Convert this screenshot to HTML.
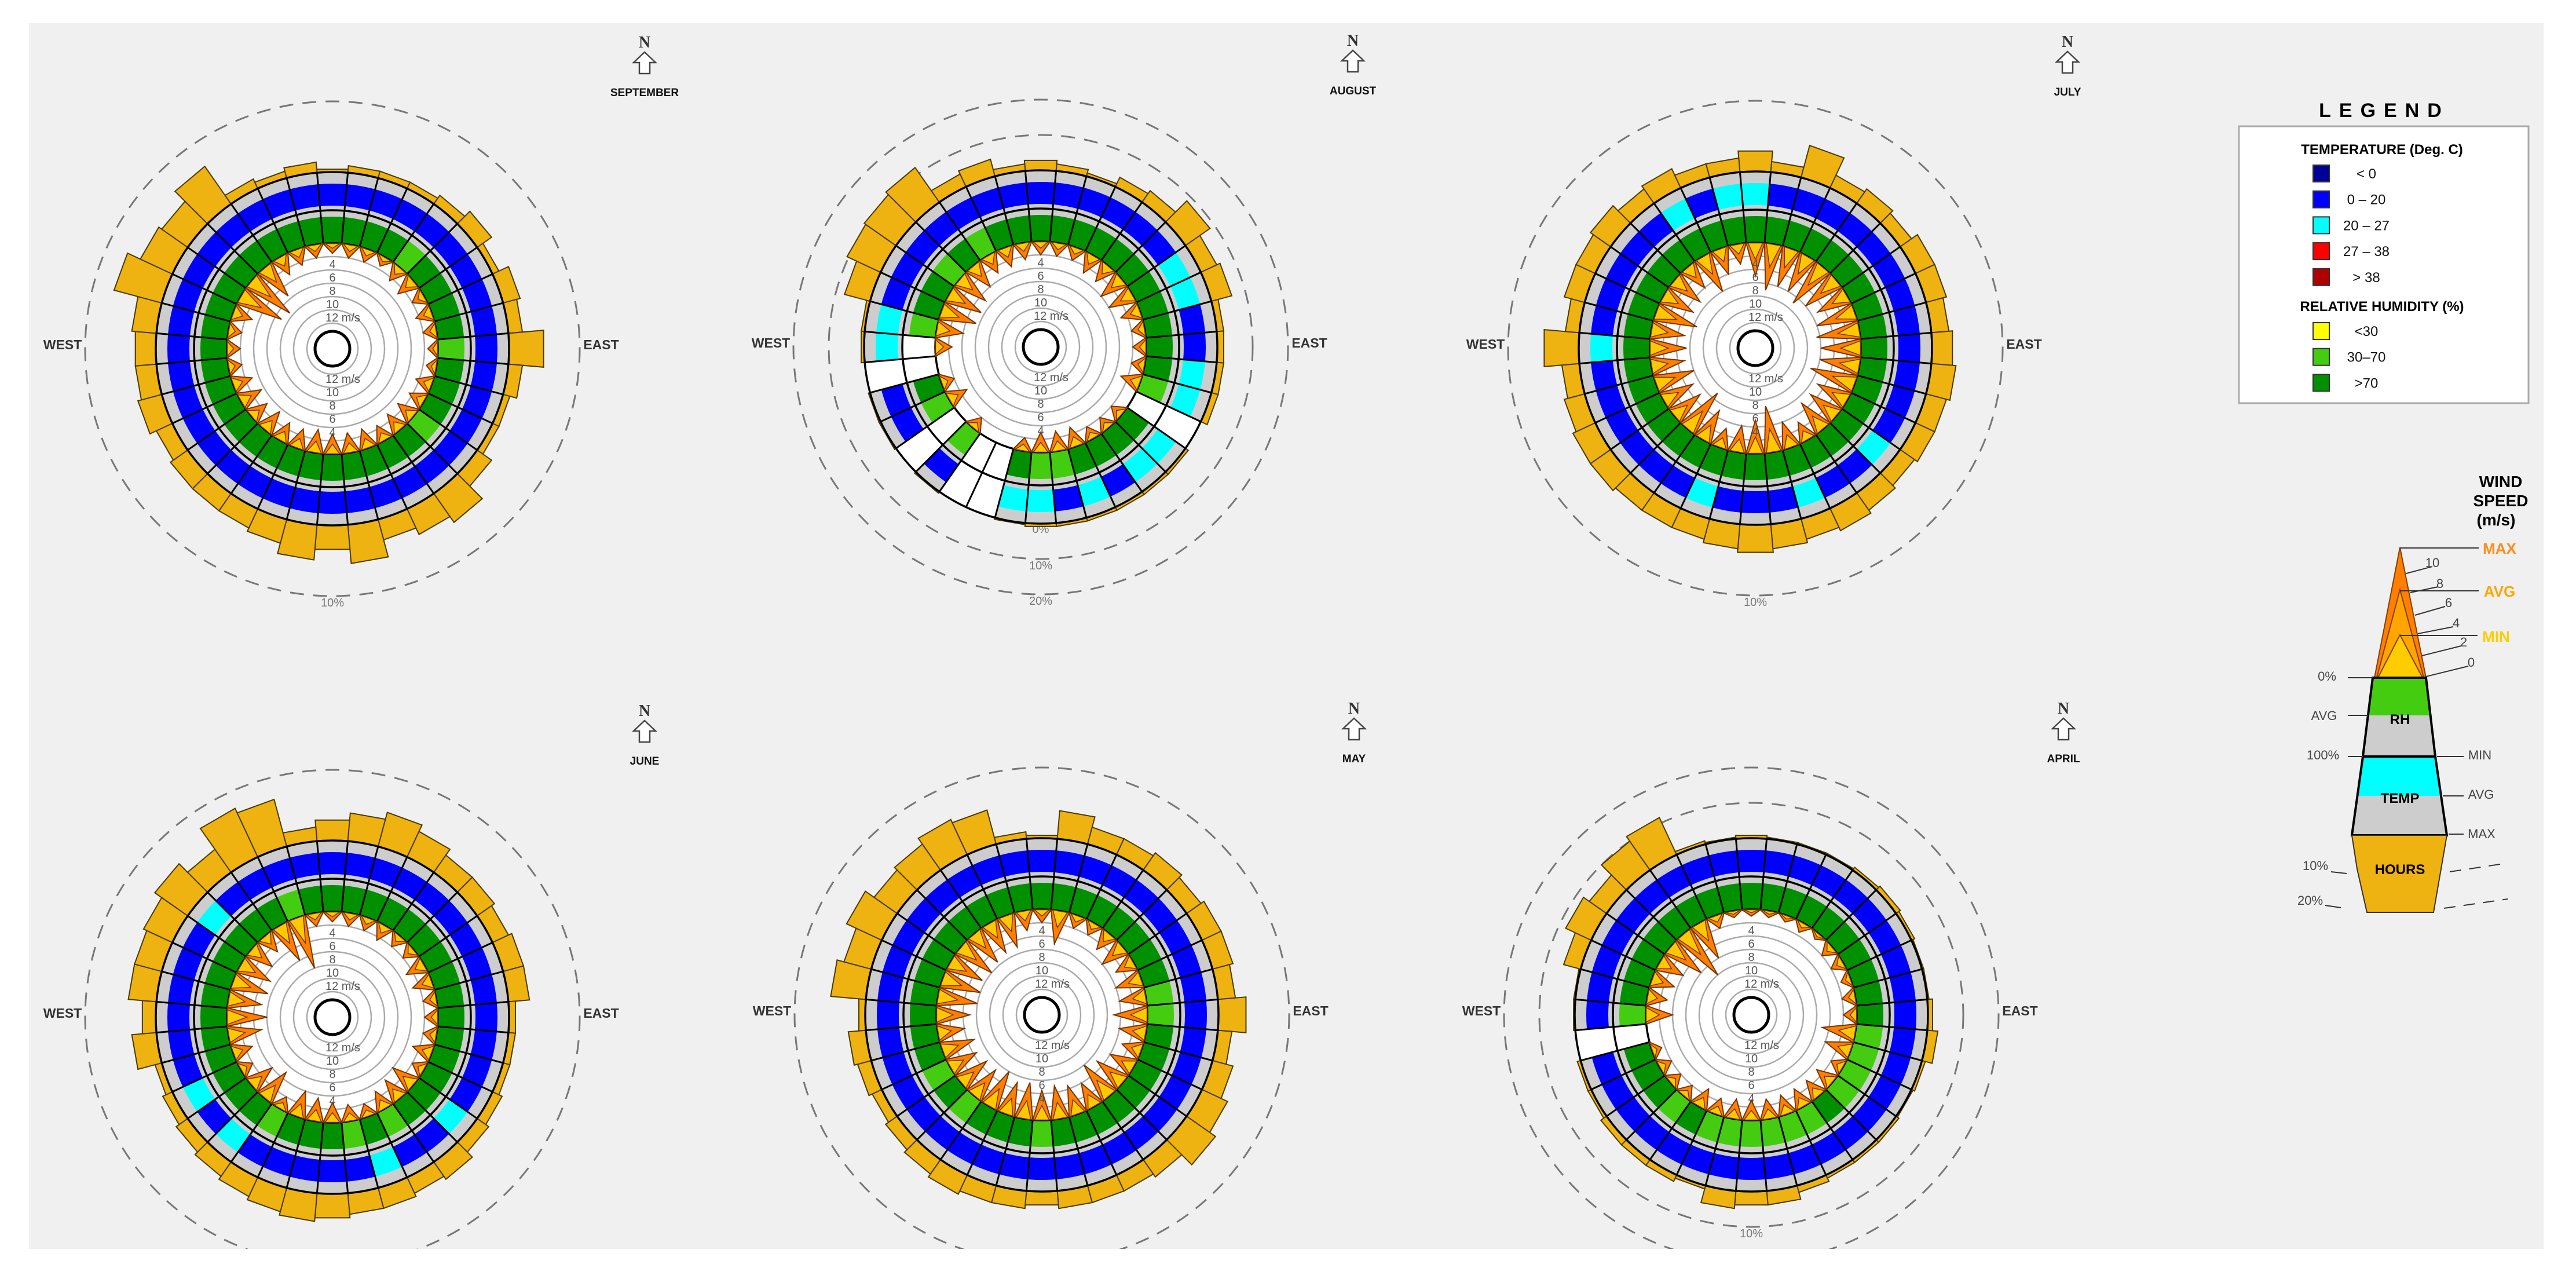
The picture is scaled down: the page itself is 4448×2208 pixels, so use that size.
<!DOCTYPE html>
<html><head><meta charset="utf-8"><style>
html,body{margin:0;padding:0;background:#fff;}
svg{display:block;font-family:"Liberation Sans",sans-serif;}
</style></head><body>
<svg id="chart" xmlns="http://www.w3.org/2000/svg" width="4448" height="2208" viewBox="0 0 4448 2208">
<defs><clipPath id="panelClip"><rect x="50" y="40" width="4342" height="2116"/></clipPath></defs>
<rect x="50" y="40" width="4342" height="2116" fill="#f0f0f0"/>
<g id="roses" clip-path="url(#panelClip)"></g>

<g>
<text x="4117" y="202" text-anchor="middle" font-size="34" font-weight="bold" letter-spacing="14">LEGEND</text>
<rect x="3866" y="218" width="500" height="478" fill="#fff" stroke="#aaa" stroke-width="3"/>
<text x="4113" y="266" text-anchor="middle" font-size="24" font-weight="bold">TEMPERATURE (Deg. C)</text>
<g id="legendTemp"></g>
<text x="4113" y="537" text-anchor="middle" font-size="24" font-weight="bold">RELATIVE HUMIDITY (%)</text>
<g id="legendRH"></g>
</g>

<g font-weight="bold">
<text x="4318" y="841" text-anchor="middle" font-size="28">WIND</text>
<text x="4318" y="874" text-anchor="middle" font-size="28">SPEED</text>
<text x="4310" y="907" text-anchor="middle" font-size="28">(m/s)</text>
<polygon points="4144,945 4100,1170 4189,1170" fill="#ff7f00" stroke="#8a3d00" stroke-width="2"/>
<polygon points="4144,1018 4104,1170 4185,1170" fill="#ffa500" stroke="#8a3d00" stroke-width="2"/>
<polygon points="4144,1096 4106,1170 4183,1170" fill="#ffcc00" stroke="#8a3d00" stroke-width="2"/>
<polygon points="4097,1170 4189,1170 4205,1306 4080,1306" fill="#cdcdcd"/>
<polygon points="4097,1170 4189,1170 4197,1235 4089,1235" fill="#44cc11"/>
<polygon points="4097,1170 4189,1170 4205,1306 4080,1306" fill="none" stroke="#000" stroke-width="4"/>
<polygon points="4080,1306 4205,1306 4225,1442 4061,1442" fill="#cdcdcd"/>
<polygon points="4080,1306 4205,1306 4215,1374 4071,1374" fill="#00ffff"/>
<polygon points="4080,1306 4205,1306 4225,1442 4061,1442" fill="none" stroke="#000" stroke-width="4"/>
<polygon points="4061,1442 4225,1442 4215,1500 4202,1575 4087,1575 4070,1500" fill="#eeb211" stroke="#333" stroke-width="2"/>
<text x="4144" y="1250" text-anchor="middle" font-size="24">RH</text>
<text x="4144" y="1386" text-anchor="middle" font-size="24">TEMP</text>
<text x="4144" y="1509" text-anchor="middle" font-size="24">HOURS</text>
<g stroke="#333" stroke-width="2" fill="none">
<line x1="4144" y1="946" x2="4280" y2="946"/><line x1="4144" y1="1020" x2="4280" y2="1020"/><line x1="4144" y1="1097" x2="4278" y2="1097"/>
<line x1="4155" y1="990" x2="4200" y2="978"/><line x1="4162" y1="1023" x2="4210" y2="1013"/><line x1="4170" y1="1062" x2="4222" y2="1047"/><line x1="4175" y1="1094" x2="4236" y2="1082"/><line x1="4182" y1="1132" x2="4250" y2="1115"/><line x1="4189" y1="1168" x2="4262" y2="1150"/>
<line x1="4054" y1="1170" x2="4097" y2="1170"/><line x1="4054" y1="1235" x2="4089" y2="1235"/><line x1="4054" y1="1306" x2="4080" y2="1306"/>
<line x1="4208" y1="1306" x2="4254" y2="1306"/><line x1="4218" y1="1374" x2="4254" y2="1374"/><line x1="4228" y1="1440" x2="4254" y2="1440"/>
<line x1="4025" y1="1505" x2="4052" y2="1508"/><line x1="4015" y1="1563" x2="4042" y2="1567"/>
<path d="M4230,1505 L4330,1490" stroke-dasharray="20 14"/><path d="M4220,1568 L4330,1552" stroke-dasharray="20 14"/>
</g>
<g font-weight="normal" font-size="22" fill="#444">
<text x="4200" y="979" text-anchor="middle">10</text><text x="4213" y="1015" text-anchor="middle">8</text><text x="4228" y="1048" text-anchor="middle">6</text><text x="4241" y="1083" text-anchor="middle">4</text><text x="4254" y="1116" text-anchor="middle">2</text><text x="4267" y="1151" text-anchor="middle">0</text>
<text x="4018" y="1175" text-anchor="middle">0%</text><text x="4013" y="1243" text-anchor="middle">AVG</text><text x="4011" y="1311" text-anchor="middle">100%</text>
<text x="4282" y="1311" text-anchor="middle">MIN</text><text x="4284" y="1379" text-anchor="middle">AVG</text><text x="4285" y="1447" text-anchor="middle">MAX</text>
<text x="3998" y="1502" text-anchor="middle">10%</text><text x="3989" y="1562" text-anchor="middle">20%</text>
</g>
<text x="4316" y="956" text-anchor="middle" font-size="26" fill="#ff8c1a">MAX</text>
<text x="4316" y="1030" text-anchor="middle" font-size="26" fill="#ffa500">AVG</text>
<text x="4310" y="1108" text-anchor="middle" font-size="26" fill="#ffcc00">MIN</text>
</g>
</svg>
<script>
// ---- data (index 0 = North sector, clockwise in 10 degree steps) ----
const monthNames = ["SEPTEMBER","AUGUST","JULY","JUNE","MAY","APRIL"];
const sepHours = [0.5,1,1,1,1.5,2.5,1,2.5,2,5,2,1,1,2.5,5,4,3,5.5,3.5,5,3.5,3,3,3,2.5,3.5,3,3,3.5,7,5,4.5,6.5,1.5,1,1.5];
const augHours = [3,2,1,3,4,8.5,5,6,2,2,2,2,0,1,1,1,1,1,1,0.5,0,0,0.5,0,0.5,0.5,0,1,1,7.5,10.5,11,12,4,5,2];
const julHours = [3,1.5,4.7,2,2.5,2,3,3,2.5,3,3.5,3,3,2.5,3,3.5,3,3.5,4,3.5,3,3,3,3.5,3.5,3,2.5,5,2,3,3,3.5,2.5,3,2,2];
const junHours = [3,4,5,4,3,3,2.5,3,3,1,1,1,1.5,2,3,2.5,3,3,3.5,4,3.5,3,2.5,2,1.5,1,3.5,2,4,4,4.5,5.7,4,7.6,6.9,2];
const mayHours = [0.5,4,2.5,2.5,3,2.5,3,3,2.5,4,2,3,4,5,3,2.5,2.5,2.5,2,2.5,2.5,3,2.5,2,1.5,2,2.5,1,5,4,5.5,4,4.5,5.5,5,1];
const aprHours = [1,0.5,0.5,0.5,1,1.5,1,0.5,0.5,1.5,3,1,0.5,1,1,1,2,4,4,5,1,2,2,2,1,1,0,0.5,0.5,5,8,6,10,11.6,1,0.5];

const sepMax = [1.5,2,2,1.5,2.5,3,2,2.5,2,1.5,1.5,2.5,2.5,3,3,2.5,3,3,3,3.5,3,3,3.5,3,3.5,3,2,2,2,3,7,7.5,5.5,3,2.5,2];
const augMax = [2,2,2,3,3,4,4,3,2,2,2,3,0,2,2,2,3,3,3,2,0,0,2,0,3,2,0,2.5,4,5.5,5.5,5,4,3,3,2.5];
const julMax = [5,7,6,6,7,6,5,6,6.5,6,6,7,5,5,5,3,4,7,5,4,3,5,7,5,5,6,5,5.5,5,6.5,5,5,4,6,4,3];
const junMax = [1.5,2,2,2.5,2,2,3,3,2,2,2,3,2,4,3.5,3,2,2.5,3,3.5,4,2,5,4,2,3,5,6,5,5.5,5,4,3,6,8,2];
const mayMax = [2,5,2,2,3,4,3,4,4,5,4,3,4,5,6,4,4.5,5,4.5,5.5,5,6,5,5,4.5,5,4,5,6,6,5.5,6,5.5,5,5,3];
const aprMax = [1,1,1,1.5,1,2,2,1.5,2,2,5,4,2,3,3,3,3,3,3,3,2.5,3,2,2,2,1.5,0,4,3,3.5,4,6,8,6,2,1];

// temperature class: b = 0-20, c = 20-27, w = no data
const sepTemp = "bbbbbbbbbbbbbbbbbbbbbbbbbbbbbbbbbbbb";
const augTemp = "bbbbbbccbbccwccbcbccwwbwbbwccbbbbbbb";
const julTemp = "cbbbbbbbbbbbbcbbcbbbcbbbbbbcbbbbbcbc";
const junTemp = "bbbbbbbbbbbbbcbbcbbbbbcbcbbbbbbcbbbb";
const mayTemp = "bbbbbbbbbbbbbbbbbbbbbbbbbbbbbbbbbbbb";
const aprTemp = "bbbbbbbbbbbbbbbbbbbbbbbbbbwbbbbbbbbb";
// relative humidity class: d = >70, l = 30-70, w = no data
const sepRH = "ddddlddddldddlddddddddddddddddddddddd".slice(0,36);
const augRH = "dddddddddddlwddddlldwwlwlddwlddldldd";
const julRH = "dddddddddddddddddddddddddddddddddddd";
const junRH = "dddddddddddddddldldddlddddddddddddld";
const mayRH = "ddddddddllddddddddldddldldddddddddddd".slice(0,36);
const aprRH = "ddddddddddlllldlllllldldddwlddddddddd".slice(0,36);

const speedTicks = [2,4,6,8,10,12];

const NS = "http://www.w3.org/2000/svg";
const RB = 182, RH_FILL = 228, RMID = 239, T_IN = 247, T_OUT = 285, ROUT = 305;
function rSpeed(v){ return RB - 11.5*v; }
function pt(cx,cy,r,deg){ const a=deg*Math.PI/180; return [cx+r*Math.sin(a), cy-r*Math.cos(a)]; }
function mk(tag, attrs, parent){ const e=document.createElementNS(NS,tag); for(const k in attrs) e.setAttribute(k,attrs[k]); parent.appendChild(e); return e; }
function sector(cx,cy,r1,r2,a1,a2){
  const p1=pt(cx,cy,r1,a1),p2=pt(cx,cy,r2,a1),p3=pt(cx,cy,r2,a2),p4=pt(cx,cy,r1,a2);
  return `M${p1[0]},${p1[1]} L${p2[0]},${p2[1]} A${r2},${r2} 0 0 1 ${p3[0]},${p3[1]} L${p4[0]},${p4[1]} A${r1},${r1} 0 0 0 ${p1[0]},${p1[1]} Z`;
}

const panels = [
  {cx:574, cy:602, hours:sepHours, max:sepMax, temp:sepTemp, rh:sepRH, ppp:12.2, rings:[[10,"10%"]]},
  {cx:1797,cy:599, hours:augHours, max:augMax, temp:augTemp, rh:augRH, ppp:6.1, rings:[[0,"0%",true],[10,"10%"],[20,"20%"]]},
  {cx:3031,cy:601, hours:julHours, max:julMax, temp:julTemp, rh:julRH, ppp:12.2, rings:[[10,"10%"]]},
  {cx:574, cy:1756,hours:junHours, max:junMax, temp:junTemp, rh:junRH, ppp:12.2, rings:[[10,"10%"]]},
  {cx:1799,cy:1752,hours:mayHours, max:mayMax, temp:mayTemp, rh:mayRH, ppp:12.2, rings:[[10,"10%"]]},
  {cx:3024,cy:1752,hours:aprHours, max:aprMax, temp:aprTemp, rh:aprRH, ppp:6.1, rings:[[10,"10%"],[20,"20%"]]}
];
const root = document.getElementById("roses");
panels.forEach((P,pi)=>{
  const g = mk("g",{},root);
  
  
  const {cx,cy} = P;
  // dashed percentage rings
  P.rings.forEach(rg=>{
    const r = ROUT + rg[0]*P.ppp;
    if(!rg[2]){
      const c = mk("circle",{cx:cx,cy:cy,r:r,fill:"none",stroke:"#777","stroke-width":3,"stroke-dasharray":"24 16"},g);
      
      
    }
    const t = mk("text",{x:cx,y:cy+r+ (rg[2]?16:18),"text-anchor":"middle","font-size":20,fill:"#777"},g);
    
    
    t.textContent = rg[1];
  });
  // hours bars
  P.hours.forEach((h,i)=>{
    if(h<=0) return;
    const a=i*10;
    const p1=pt(cx,cy,ROUT,a-5),p2=pt(cx,cy,ROUT+h*P.ppp,a-5),p3=pt(cx,cy,ROUT+h*P.ppp,a+5),p4=pt(cx,cy,ROUT,a+5);
    const b = mk("polygon",{points:`${p1} ${p2} ${p3} ${p4}`,fill:"#eeb211",stroke:"#4a3a00","stroke-width":2},g);
    
    
  });
  // white inner disc
  mk("circle",{cx:cx,cy:cy,r:RB,fill:"#fff"},g);
  // RH and temperature sectors
  for(let i=0;i<36;i++){
    const a1=i*10-5,a2=i*10+5;
    const tc=P.temp[i], hc=P.rh[i];
    if(tc==="w"){
      const s=mk("path",{d:sector(cx,cy,RB,ROUT,a1,a2),fill:"#fff"},g);
      
      
      continue;
    }
    mk("path",{d:sector(cx,cy,RB,ROUT,a1,a2),fill:"#cdcdcd"},g);
    if(hc!=="w"){
      const rs=mk("path",{d:sector(cx,cy,RB,RH_FILL,a1,a2),fill:hc==="l"?"#44cc11":"#009000"},g);
      
      
    } else {
      mk("path",{d:sector(cx,cy,RB,RMID,a1,a2),fill:"#fff"},g);
    }
    const ts=mk("path",{d:sector(cx,cy,T_IN,T_OUT,a1,a2),fill:tc==="c"?"#00ffff":"#0000ff"},g);
    
    
  }
  // grid lines of sectors
  for(let i=0;i<36;i++){
    const p1=pt(cx,cy,RB,i*10-5),p2=pt(cx,cy,ROUT,i*10-5);
    mk("line",{x1:p1[0],y1:p1[1],x2:p2[0],y2:p2[1],stroke:"#000","stroke-width":3},g);
  }
  [RB,RMID,ROUT].forEach(r=>mk("circle",{cx:cx,cy:cy,r:r,fill:"none",stroke:"#000","stroke-width":3.5},g));
  // speed rings
  speedTicks.forEach(v=>{
    const c=mk("circle",{cx:cx,cy:cy,r:rSpeed(v),fill:"none",stroke:"#aaa","stroke-width":2.5},g);
    
    
  });
  // wind triangles
  P.max.forEach((m,i)=>{
    if(m<=0) return;
    const a=i*10;
    const b1=pt(cx,cy,RB,a-5),b2=pt(cx,cy,RB,a+5);
    const tip=pt(cx,cy,rSpeed(m),a);
    const t=mk("polygon",{points:`${b1} ${tip} ${b2}`,fill:"#ff8000",stroke:"#7a3300","stroke-width":2},g);
    
    
    const avg=m*0.5;
    const tip2=pt(cx,cy,rSpeed(avg),a);
    const b3=pt(cx,cy,RB,a-4),b4=pt(cx,cy,RB,a+4);
    const t2=mk("polygon",{points:`${b3} ${tip2} ${b4}`,fill:"#ffc800",stroke:"#7a3300","stroke-width":1.5},g);
    
    
  });
  // speed labels
  speedTicks.slice(1).forEach(v=>{
    const r=rSpeed(v)+9;
    [cy-r+6, cy+r+6].forEach(yy=>{
      const t=mk("text",{x:v===12?cx-12:cx,y:yy,"text-anchor":v===12?"start":"middle","font-size":20,fill:"#555"},g);
      
      
      t.textContent = v===12?"12 m/s":String(v);
    });
  });
  mk("circle",{cx:cx,cy:cy,r:30,fill:"#fff",stroke:"#000","stroke-width":5},g);
  // compass labels
  const w=mk("text",{x:cx-466,y:cy+1,"text-anchor":"middle","font-size":23,"font-weight":"bold",fill:"#333"},g);
    w.textContent="WEST";
  const e=mk("text",{x:cx+464,y:cy+1,"text-anchor":"middle","font-size":23,"font-weight":"bold",fill:"#333"},g);
    e.textContent="EAST";
  const nx=cx+539, ny=cy-530;
  const n=mk("text",{x:nx,y:ny+10,"text-anchor":"middle","font-size":28,"font-weight":"bold","font-family":"Liberation Serif, serif",fill:"#333"},g);
    n.textContent="N";
  const ar=mk("polygon",{points:`${nx},${ny+18} ${nx+19},${ny+36} ${nx+9},${ny+36} ${nx+9},${ny+55} ${nx-9},${ny+55} ${nx-9},${ny+36} ${nx-19},${ny+36}`,fill:"#fff",stroke:"#444","stroke-width":2.5},g);
   
  const ml=mk("text",{x:nx,y:cy-436,"text-anchor":"middle","font-size":19,"font-weight":"bold",fill:"#111"},g);
    ml.textContent=monthNames[pi];
});

// legend entries
const tempLabels = ["< 0","0  \u2013  20","20  \u2013  27","27  \u2013  38","> 38"];
const tempColors = ["#000099","#0000ff","#00ffff","#ff0000","#b00000"];
const rhLabels = ["<30","30\u201370",">70"];
const rhColors = ["#ffff00","#44cc11","#009000"];
function legendRows(labels, colors, y0, parentId){
  const p=document.getElementById(parentId);
  labels.forEach((lab,i)=>{
    const y=y0+i*44.7;
    const r=mk("rect",{x:3994,y:y-14,width:28,height:29,fill:colors[i],stroke:"#333","stroke-width":2},p);
     
    const t=mk("text",{x:4086,y:y+9,"text-anchor":"middle","font-size":24,fill:"#111"},p);
      t.textContent=lab;
  });
}
legendRows(tempLabels,tempColors,299,"legendTemp");
legendRows(rhLabels,rhColors,571,"legendRH");
</script>
</body></html>
